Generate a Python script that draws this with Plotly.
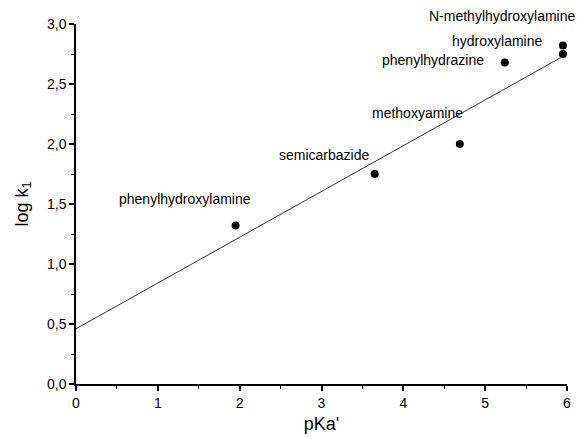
import plotly.graph_objects as go

# Data
compounds = ["phenylhydroxylamine", "semicarbazide", "methoxyamine",
             "phenylhydrazine", "hydroxylamine", "N-methylhydroxylamine"]
pka = [1.95, 3.65, 4.69, 5.24, 5.95, 5.95]
logk1 = [1.32, 1.75, 2.00, 2.68, 2.75, 2.82]
# label anchor positions (data units)
label_x = [1.33, 3.03, 4.17, 4.36, 5.15, 5.21]
label_y = [1.54, 1.91, 2.26, 2.70, 2.86, 3.07]
# regression line endpoints
fit_x = [0.0, 5.95]
fit_y = [0.46, 2.73]

x_range = [0, 6]
y_range = [0, 3]
x_ticks = [0, 1, 2, 3, 4, 5, 6]
x_ticktext = ["0", "1", "2", "3", "4", "5", "6"]
y_ticks = [0.0, 0.5, 1.0, 1.5, 2.0, 2.5, 3.0]
y_ticktext = ["0,0", "0,5", "1,0", "1,5", "2,0", "2,5", "3,0"]

font = "Liberation Sans, Arial, sans-serif"

fig = go.Figure()
fig.add_trace(go.Scatter(x=fit_x, y=fit_y, mode="lines",
                         line=dict(color="#333333", width=1), hoverinfo="skip"))
fig.add_trace(go.Scatter(x=pka, y=logk1, mode="markers",
                         marker=dict(color="black", size=8), hoverinfo="skip",
                         cliponaxis=False))

for name, lx, ly in zip(compounds, label_x, label_y):
    # annotations outside the axis range are hidden, so use the axis domain reference
    fig.add_annotation(x=lx, xref="x",
                       y=(ly - y_range[0]) / (y_range[1] - y_range[0]), yref="y domain",
                       text=name, showarrow=False,
                       xanchor="center", yanchor="middle",
                       font=dict(family=font, size=14, color="black"))

axis_common = dict(showline=True, linecolor="black", linewidth=1.5,
                   ticks="outside", ticklen=5, tickwidth=1.5, tickcolor="black",
                   showgrid=False, zeroline=False, mirror=False, automargin=False,
                   tickfont=dict(family=font, size=14, color="black"))

fig.update_xaxes(range=x_range, tickvals=x_ticks, ticktext=x_ticktext,
                 minor=dict(dtick=0.5, ticks="outside", ticklen=3, tickcolor="black", tickwidth=1),
                 title=dict(text="pKa'", font=dict(family=font, size=18, color="black"), standoff=8),
                 **axis_common)
fig.update_yaxes(range=y_range, tickvals=y_ticks, ticktext=y_ticktext,
                 minor=dict(dtick=0.25, ticks="outside", ticklen=3, tickcolor="black", tickwidth=1),
                 title=dict(text="log k<sub>1</sub>", font=dict(family=font, size=18, color="black"), standoff=14),
                 **axis_common)

fig.update_layout(width=575, height=430, showlegend=False,
                  plot_bgcolor="white", paper_bgcolor="white",
                  margin=dict(l=68, r=16, t=16, b=54))

fig.write_html("out.html")
